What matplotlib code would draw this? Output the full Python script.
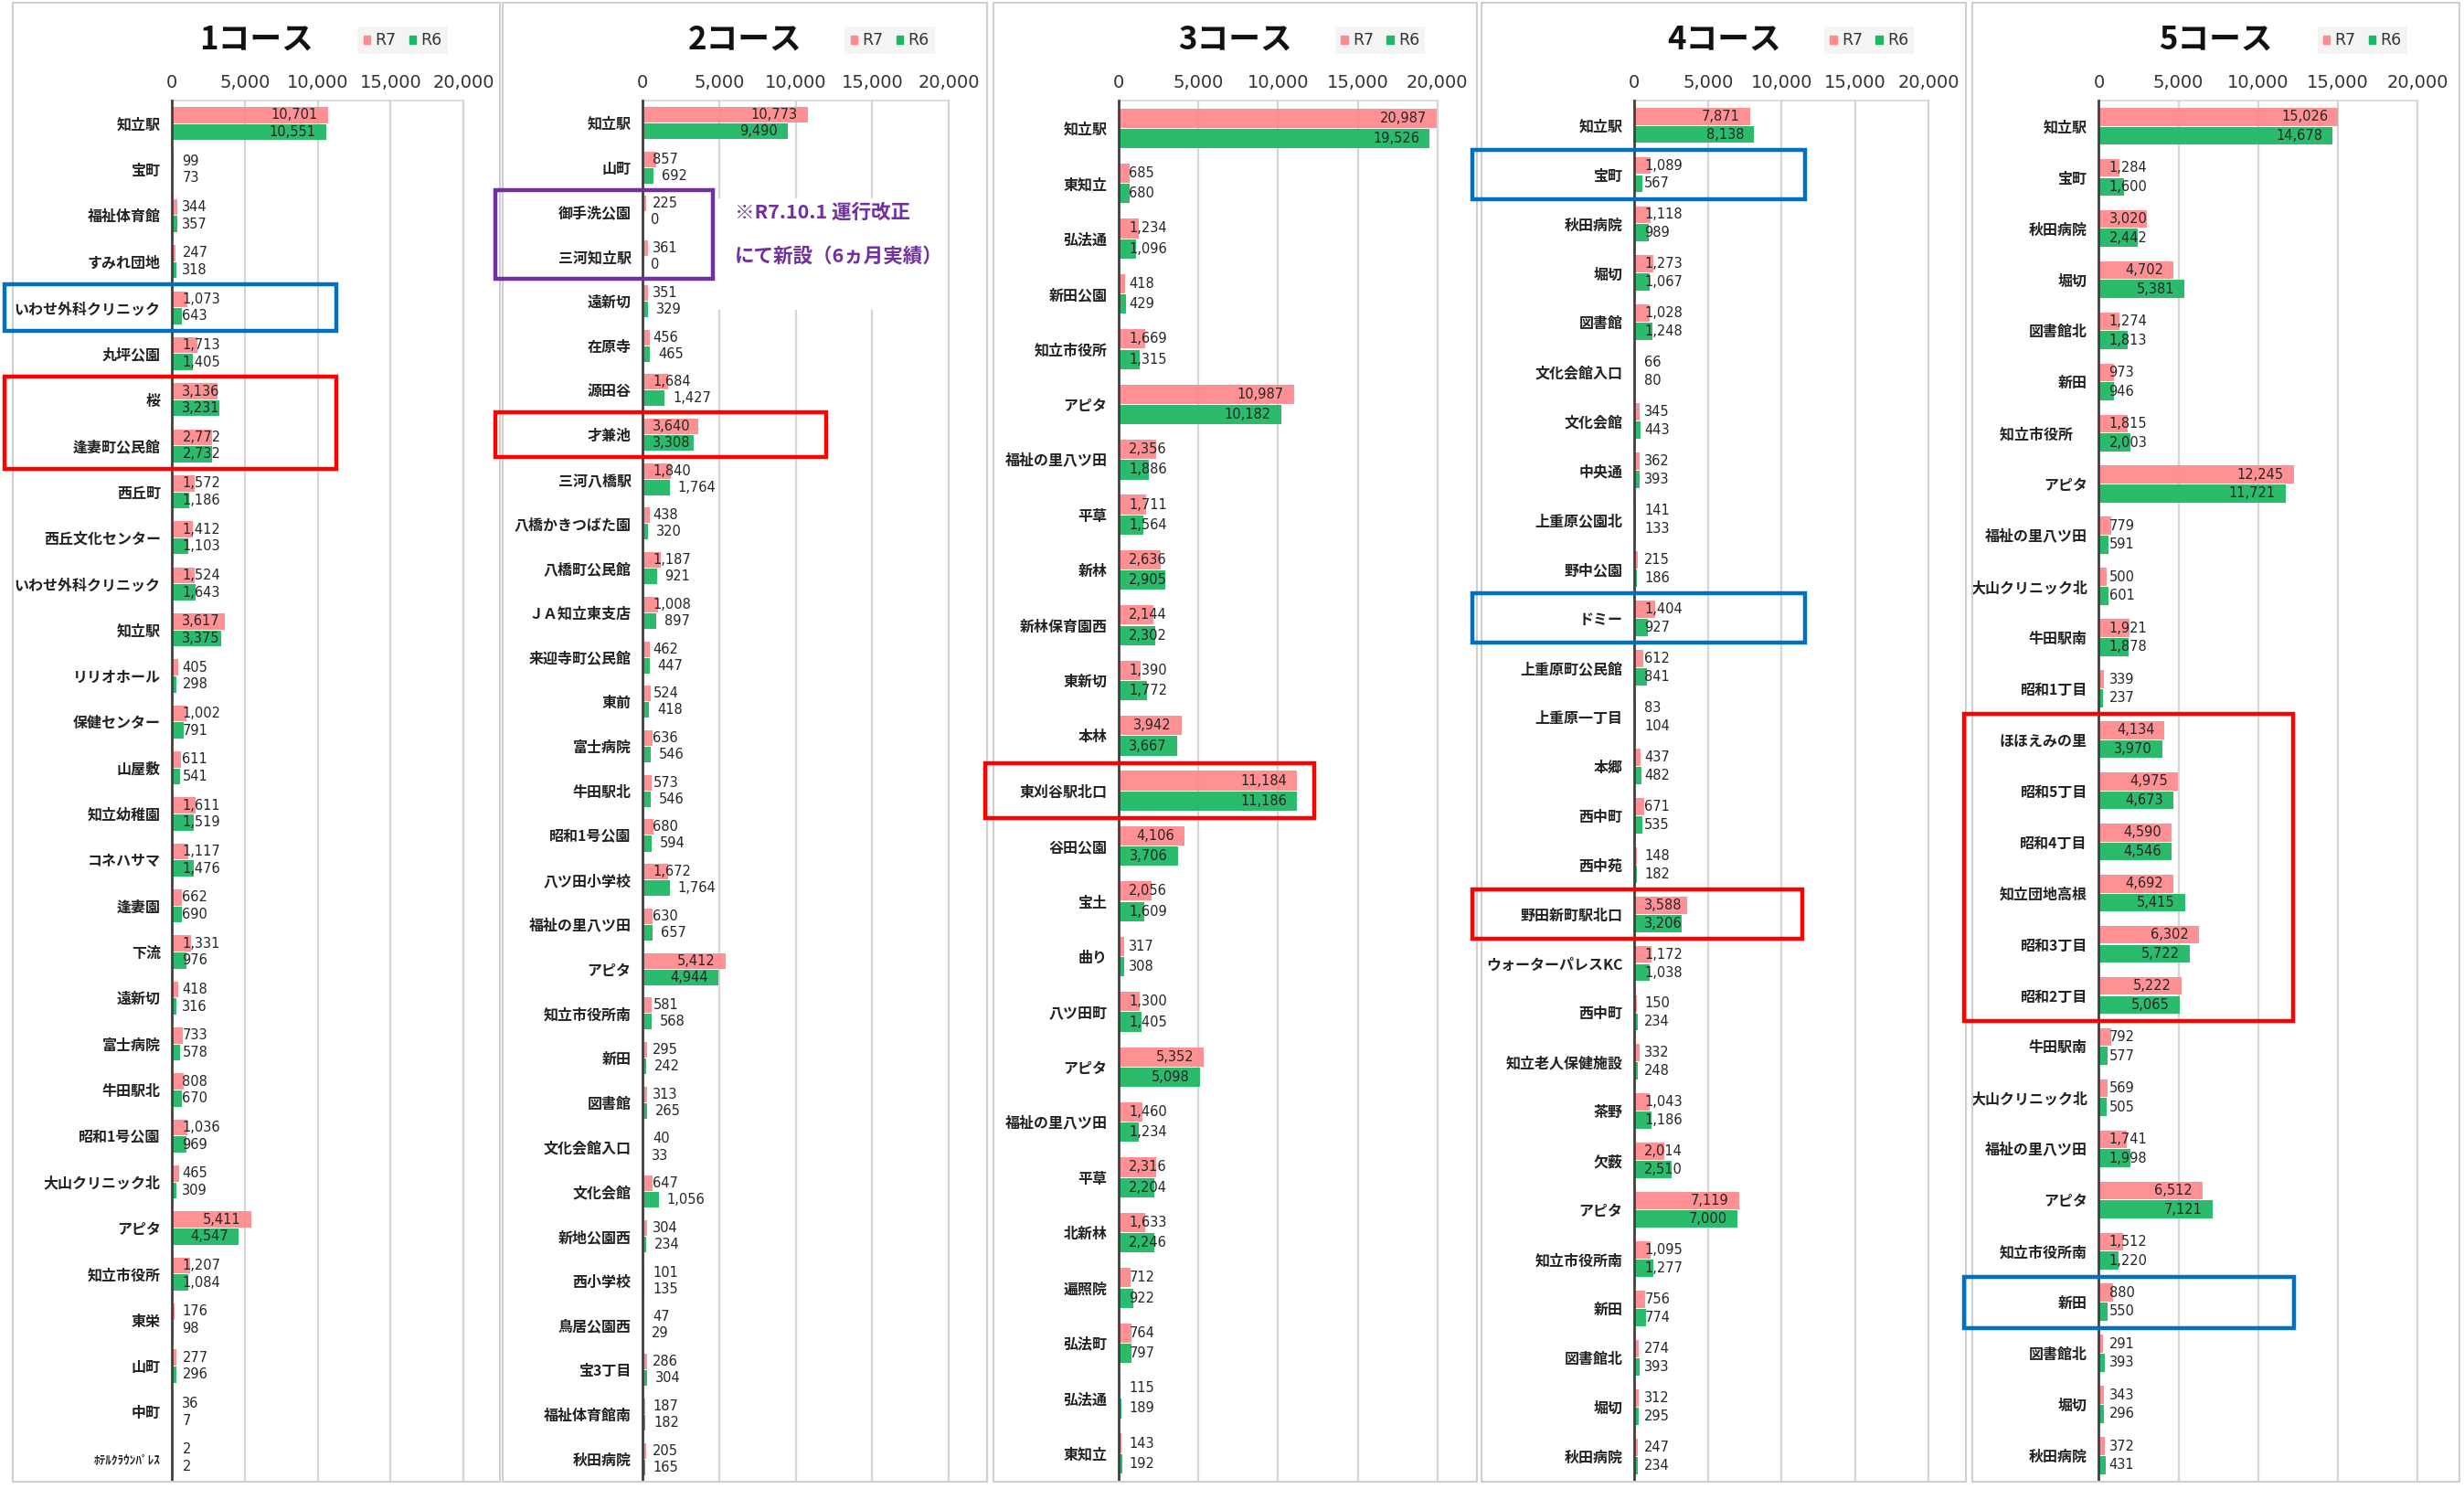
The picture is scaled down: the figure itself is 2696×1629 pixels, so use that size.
import matplotlib
matplotlib.use('Agg')
import numpy as np
import matplotlib.pyplot as plt
import matplotlib.transforms as mtransforms
from matplotlib.patches import Rectangle, Patch

plt.rcParams['font.family'] = ['Noto Sans CJK JP', 'DejaVu Sans']

# ---- data (R7 / R6 per stop) ----
stops1 = ['知立駅', '宝町', '福祉体育館', 'すみれ団地', 'いわせ外科クリニック', '丸坪公園', '桜', '逢妻町公民館',
          '西丘町', '西丘文化センター', 'いわせ外科クリニック', '知立駅', 'リリオホール', '保健センター', '山屋敷',
          '知立幼稚園', 'コネハサマ', '逢妻園', '下流', '遠新切', '富士病院', '牛田駅北', '昭和1号公園',
          '大山クリニック北', 'アピタ', '知立市役所', '東栄', '山町', '中町', 'ﾎﾃﾙｸﾗｳﾝﾊﾟﾚｽ']
r7_1 = [10701, 99, 344, 247, 1073, 1713, 3136, 2772, 1572, 1412, 1524, 3617, 405, 1002, 611,
        1611, 1117, 662, 1331, 418, 733, 808, 1036, 465, 5411, 1207, 176, 277, 36, 2]
r6_1 = [10551, 73, 357, 318, 643, 1405, 3231, 2732, 1186, 1103, 1643, 3375, 298, 791, 541,
        1519, 1476, 690, 976, 316, 578, 670, 969, 309, 4547, 1084, 98, 296, 7, 2]

stops2 = ['知立駅', '山町', '御手洗公園', '三河知立駅', '遠新切', '在原寺', '源田谷', '才兼池', '三河八橋駅',
          '八橋かきつばた園', '八橋町公民館', 'ＪＡ知立東支店', '来迎寺町公民館', '東前', '富士病院', '牛田駅北',
          '昭和1号公園', '八ツ田小学校', '福祉の里八ツ田', 'アピタ', '知立市役所南', '新田', '図書館',
          '文化会館入口', '文化会館', '新地公園西', '西小学校', '鳥居公園西', '宝3丁目', '福祉体育館南', '秋田病院']
r7_2 = [10773, 857, 225, 361, 351, 456, 1684, 3640, 1840, 438, 1187, 1008, 462, 524, 636, 573,
        680, 1672, 630, 5412, 581, 295, 313, 40, 647, 304, 101, 47, 286, 187, 205]
r6_2 = [9490, 692, 0, 0, 329, 465, 1427, 3308, 1764, 320, 921, 897, 447, 418, 546, 546,
        594, 1764, 657, 4944, 568, 242, 265, 33, 1056, 234, 135, 29, 304, 182, 165]

stops3 = ['知立駅', '東知立', '弘法通', '新田公園', '知立市役所', 'アピタ', '福祉の里八ツ田', '平草', '新林',
          '新林保育園西', '東新切', '本林', '東刈谷駅北口', '谷田公園', '宝土', '曲り', '八ツ田町', 'アピタ',
          '福祉の里八ツ田', '平草', '北新林', '遍照院', '弘法町', '弘法通', '東知立']
r7_3 = [20987, 685, 1234, 418, 1669, 10987, 2356, 1711, 2636, 2144, 1390, 3942, 11184, 4106,
        2056, 317, 1300, 5352, 1460, 2316, 1633, 712, 764, 115, 143]
r6_3 = [19526, 680, 1096, 429, 1315, 10182, 1886, 1564, 2905, 2302, 1772, 3667, 11186, 3706,
        1609, 308, 1405, 5098, 1234, 2204, 2246, 922, 797, 189, 192]

stops4 = ['知立駅', '宝町', '秋田病院', '堀切', '図書館', '文化会館入口', '文化会館', '中央通', '上重原公園北',
          '野中公園', 'ドミー', '上重原町公民館', '上重原一丁目', '本郷', '西中町', '西中苑', '野田新町駅北口',
          'ウォーターパレスKC', '西中町', '知立老人保健施設', '茶野', '欠薮', 'アピタ', '知立市役所南', '新田',
          '図書館北', '堀切', '秋田病院']
r7_4 = [7871, 1089, 1118, 1273, 1028, 66, 345, 362, 141, 215, 1404, 612, 83, 437, 671, 148,
        3588, 1172, 150, 332, 1043, 2014, 7119, 1095, 756, 274, 312, 247]
r6_4 = [8138, 567, 989, 1067, 1248, 80, 443, 393, 133, 186, 927, 841, 104, 482, 535, 182,
        3206, 1038, 234, 248, 1186, 2510, 7000, 1277, 774, 393, 295, 234]

stops5 = ['知立駅', '宝町', '秋田病院', '堀切', '図書館北', '新田', '知立市役所　', 'アピタ', '福祉の里八ツ田',
          '大山クリニック北', '牛田駅南', '昭和1丁目', 'ほほえみの里', '昭和5丁目', '昭和4丁目', '知立団地高根',
          '昭和3丁目', '昭和2丁目', '牛田駅南', '大山クリニック北', '福祉の里八ツ田', 'アピタ', '知立市役所南',
          '新田', '図書館北', '堀切', '秋田病院']
r7_5 = [15026, 1284, 3020, 4702, 1274, 973, 1815, 12245, 779, 500, 1921, 339, 4134, 4975,
        4590, 4692, 6302, 5222, 792, 569, 1741, 6512, 1512, 880, 291, 343, 372]
r6_5 = [14678, 1600, 2442, 5381, 1813, 946, 2003, 11721, 591, 601, 1878, 237, 3970, 4673,
        4546, 5415, 5722, 5065, 577, 505, 1998, 7121, 1220, 550, 393, 296, 431]

titles = ['1コース', '2コース', '3コース', '4コース', '5コース']
courses = [(stops1, r7_1, r6_1), (stops2, r7_2, r6_2), (stops3, r7_3, r6_3),
           (stops4, r7_4, r6_4), (stops5, r7_5, r6_5)]
xticks = [0, 5000, 10000, 15000, 20000]
XMAX = 20000

PINK = '#FF8A8E'
GREEN = '#1FB865'
NUMFONT = 'DejaVu Sans'

# ---- layout (reference px on a 1568 x 947 canvas) ----
W, H = 1568.0, 947.0
panel_x = [(8, 318), (320, 628), (632, 940), (943, 1251), (1255, 1565)]
axes_x = [(109.5, 295), (409, 603.8), (712, 914.7), (1040, 1227.4), (1335.6, 1538.3)]
ax_top, ax_bot = 64, 942

# highlight boxes: (panel, first row, last row, x0, x1, colour)
boxes = [(0, 4, 4, 3, 214, '#0070C0'), (0, 6, 7, 3, 214, '#FF0000'),
         (1, 2, 3, 315, 453.6, '#7030A0'), (1, 7, 7, 315, 526, '#FF0000'),
         (2, 12, 12, 627, 836.6, '#FF0000'),
         (3, 1, 1, 937, 1148.7, '#0070C0'), (3, 10, 10, 937, 1148.7, '#0070C0'),
         (3, 16, 16, 937, 1147, '#FF0000'),
         (4, 12, 17, 1250, 1459, '#FF0000'), (4, 23, 23, 1250, 1460, '#0070C0')]

fig = plt.figure(figsize=(26.96, 16.29), dpi=100)
fig.patch.set_facecolor('white')

axes = []
for i, (stops, r7, r6) in enumerate(courses):
    px0, px1 = panel_x[i]
    fig.add_artist(Rectangle((px0 / W, 4.6 / H), (px1 - px0) / W, (945.5 - 4.6) / H,
                             transform=fig.transFigure, fill=False, edgecolor='#CFCFCF', lw=1.5))
    ax0, ax1 = axes_x[i]
    ax = fig.add_axes([ax0 / W, 1 - ax_bot / H, (ax1 - ax0) / W, (ax_bot - ax_top) / H])
    axes.append(ax)
    n = len(stops)
    y = np.arange(n)
    ax.barh(y - 0.185, r7, height=0.35, color=PINK, alpha=0.95, zorder=2)
    ax.barh(y + 0.185, r6, height=0.35, color=GREEN, alpha=0.95, zorder=2)
    ax.set_xlim(0, XMAX)
    ax.set_ylim(n - 0.5, -0.5)
    ax.xaxis.tick_top()
    ax.set_xticks(xticks)
    ax.set_xticklabels([f'{t:,}' for t in xticks], fontsize=14, family=NUMFONT, color='#333333')
    ax.tick_params(axis='x', length=0, pad=7)
    ax.set_yticks(y)
    ax.set_yticklabels(stops, fontsize=11.5, weight='bold', color='#222222')
    ax.tick_params(axis='y', length=0, pad=9)
    if i == 0:
        ax.get_yticklabels()[-1].set_fontsize(9.5)
    ax.grid(axis='x', color='#D5D5D5', lw=1.6, zorder=0)
    ax.set_axisbelow(True)
    ax.spines['bottom'].set_visible(False)
    ax.spines['top'].set_color('#D5D5D5')
    ax.spines['right'].set_color('#D5D5D5')
    ax.spines['top'].set_linewidth(1.2)
    ax.spines['right'].set_linewidth(1.6)
    ax.spines['left'].set_color('#404040')
    ax.spines['left'].set_linewidth(2)
    ax.spines['left'].set_zorder(5)

    fig.text((px0 + px1) / 2 / W, 1 - 25 / H, titles[i], ha='center', va='center',
             fontsize=25, weight='bold', color='#111111')
    leg = ax.legend([Patch(color=PINK), Patch(color=GREEN)], ['R7', 'R6'], loc='upper right',
                    bbox_to_anchor=((px1 - 28) / W, 1 - 12 / H), bbox_transform=fig.transFigure,
                    ncol=2, frameon=True, fancybox=False, facecolor='#F4F4F4', edgecolor='none',
                    prop={'family': NUMFONT, 'size': 12.5}, handlelength=0.45, handleheight=0.45,
                    handletextpad=0.3, columnspacing=0.8, borderpad=0.35)
    leg.get_frame().set_alpha(1)
    for t in leg.get_texts():
        t.set_color('#333333')

# note for the new stops in course 2
ax2 = axes[1]
tr2 = mtransforms.blended_transform_factory(fig.transFigure, ax2.transData)
ax2.add_patch(Rectangle((454 / W, 1.7), (589 - 454) / W, 2.5, transform=tr2,
                        facecolor='white', edgecolor='none', zorder=1, clip_on=False))
ax2.text(467.6 / W, 2, '※R7.10.1 運行改正', transform=tr2, ha='left', va='center',
         fontsize=15.5, weight='bold', color='#7030A0', zorder=6, clip_on=False)
ax2.text(467.6 / W, 3, 'にて新設（6ヵ月実績）', transform=tr2, ha='left', va='center',
         fontsize=15.5, weight='bold', color='#7030A0', zorder=6, clip_on=False)

# value labels, Excel "inside end" style
fig.canvas.draw()
renderer = fig.canvas.get_renderer()
pad = 8
pad_px = pad * fig.dpi / 72
for i, (stops, r7, r6) in enumerate(courses):
    ax = axes[i]
    for series, off in ((r7, -0.185), (r6, 0.185)):
        outside = (i == 1 and series is r6)
        for k, v in enumerate(series):
            yy = k + off
            t = ax.annotate(f'{v:,}', xy=(min(v, XMAX), yy), xytext=(-pad, 0),
                            textcoords='offset points', ha='right', va='center',
                            fontsize=10.5, family=NUMFONT, color='#262626', zorder=4)
            bb = t.get_window_extent(renderer)
            base = ax.transData.transform((0, yy))[0]
            end = ax.transData.transform((min(v, XMAX), yy))[0]
            if outside and end - base < bb.width + pad_px:
                t.xy = (v, yy)
                t.set_position((pad * 0.8, 0))
                t.set_ha('left')
            elif bb.x0 < base + pad_px:
                t.xy = (0, yy)
                t.set_position((pad, 0))
                t.set_ha('left')

# highlight frames
for p, r0, r1, x0, x1, col in boxes:
    tr = mtransforms.blended_transform_factory(fig.transFigure, axes[p].transData)
    fig.add_artist(Rectangle((x0 / W, r0 - 0.5), (x1 - x0) / W, r1 - r0 + 1, transform=tr,
                             fill=False, edgecolor=col, lw=3.2, zorder=10))

fig.savefig('out.png', dpi=100)
